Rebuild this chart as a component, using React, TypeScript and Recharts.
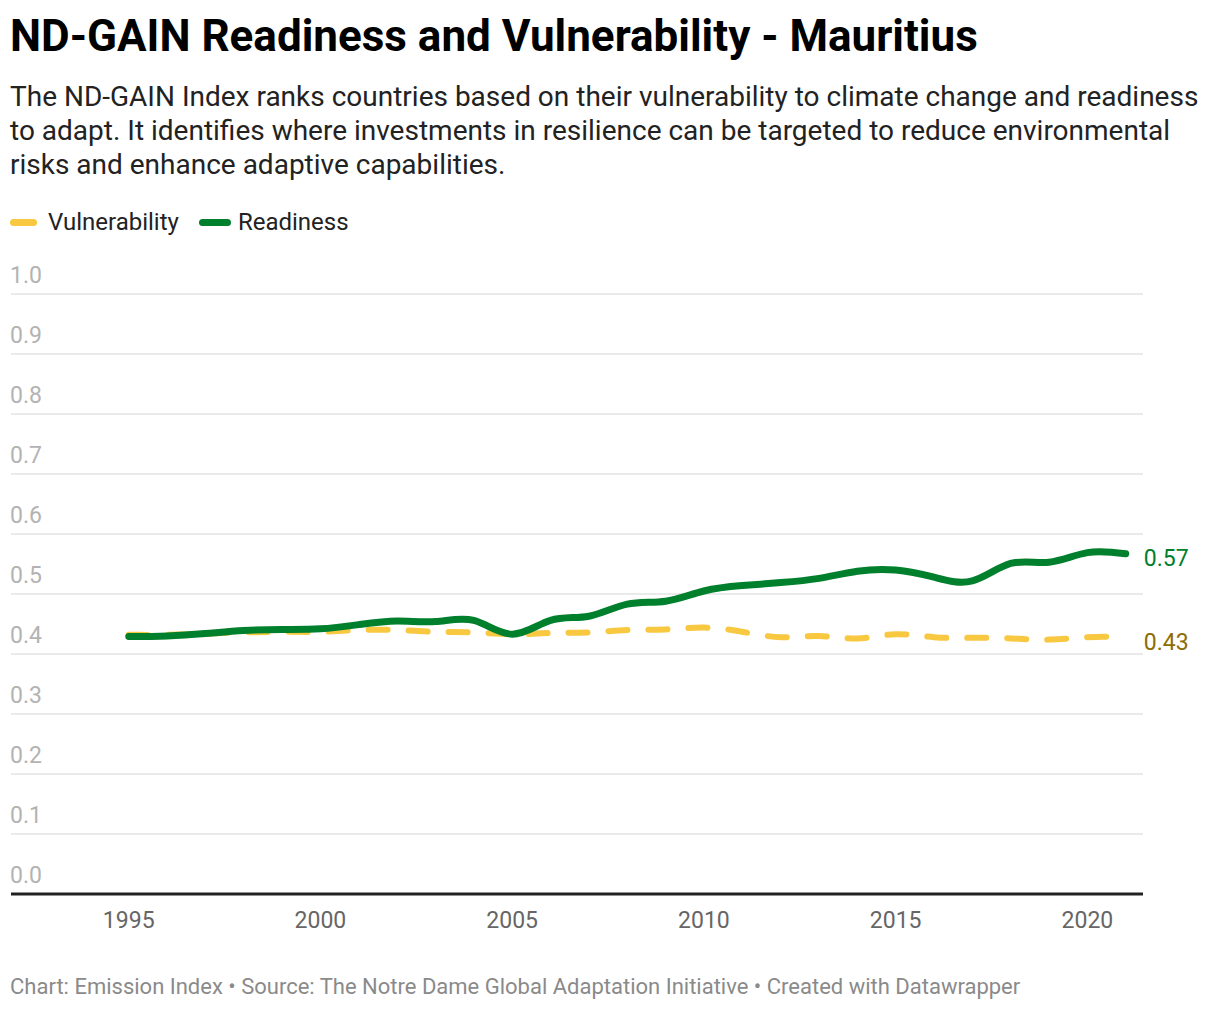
import { CartesianGrid, LabelList, Line, LineChart, XAxis, YAxis } from "recharts";

const YEARS = [
  1995, 1996, 1997, 1998, 1999, 2000, 2001, 2002, 2003, 2004, 2005, 2006, 2007,
  2008, 2009, 2010, 2011, 2012, 2013, 2014, 2015, 2016, 2017, 2018, 2019, 2020,
  2021,
];

const READINESS = [
  0.429, 0.43, 0.434, 0.439, 0.441, 0.442, 0.449, 0.455, 0.454, 0.456, 0.433,
  0.456, 0.463, 0.483, 0.488, 0.505, 0.514, 0.519, 0.526, 0.538, 0.54, 0.528,
  0.522, 0.551, 0.553, 0.569, 0.567,
];

const VULNERABILITY = [
  0.432, 0.432, 0.434, 0.436, 0.437, 0.437, 0.44, 0.44, 0.437, 0.436, 0.433,
  0.435, 0.436, 0.44, 0.441, 0.444, 0.437, 0.428, 0.43, 0.426, 0.433, 0.428,
  0.427, 0.426, 0.424, 0.428, 0.428,
];

const Y_TICKS = [0, 0.1, 0.2, 0.3, 0.4, 0.5, 0.6, 0.7, 0.8, 0.9, 1.0];
const X_TICKS = [1995, 2000, 2005, 2010, 2015, 2020];

const GREEN = "#007f2d";
const YELLOW = "#f8c840";

const data = YEARS.map((year, i) => ({
  year,
  readiness: READINESS[i],
  vulnerability: VULNERABILITY[i],
}));

const FONT = "Roboto, sans-serif";

const renderYTick = (props: any) => {
  const { y, payload } = props;
  return (
    <text x={10} y={y - 11} fill="#b3b3b3" fontSize={23} fontFamily={FONT} textAnchor="start">
      {Number(payload.value).toFixed(1)}
    </text>
  );
};

const endLabel = (color: string, dy: number) => (props: any) => {
  const { x, y, index, value } = props;
  if (index !== YEARS.length - 1) return null;
  return (
    <text x={x + 18} y={y + dy} fill={color} fontSize={23} fontFamily={FONT} dominantBaseline="middle">
      {Number(value).toFixed(2)}
    </text>
  );
};

const App = () => {
  return (
    <div style={{ position: "absolute", left: 0, top: 0, width: 1220, height: 1010, background: "#fff", fontFamily: FONT }}>
      <LineChart
        width={1220}
        height={1010}
        data={data}
        margin={{ top: 294, right: 77, bottom: 86, left: 10 }}
        style={{ position: "absolute", left: 0, top: 0 }}
      >
        <CartesianGrid vertical={false} stroke="#e3e3e3" strokeWidth={1.5} />
        <XAxis
          dataKey="year"
          type="number"
          height={30}
          domain={[1991.93, 2021.45]}
          ticks={X_TICKS}
          tickLine={false}
          axisLine={{ stroke: "#222", strokeWidth: 3 }}
          tick={{ fill: "#666", fontSize: 23, fontFamily: FONT }}
          tickMargin={12}
          allowDataOverflow
        />
        <YAxis
          width={1}
          domain={[0, 1]}
          ticks={Y_TICKS}
          axisLine={false}
          tickLine={false}
          tick={renderYTick}
        />
        <Line
          dataKey="vulnerability"
          type="natural"
          stroke={YELLOW}
          strokeWidth={6}
          strokeDasharray="19 21"
          strokeLinecap="round"
          dot={false}
          isAnimationActive={false}
        >
          <LabelList dataKey="vulnerability" content={endLabel("#8c6d00", 7)} />
        </Line>
        <Line
          dataKey="readiness"
          type="natural"
          stroke={GREEN}
          strokeWidth={7}
          strokeLinecap="round"
          dot={false}
          isAnimationActive={false}
        >
          <LabelList dataKey="readiness" content={endLabel(GREEN, 6)} />
        </Line>
      </LineChart>

      <div style={{ position: "absolute", left: 10, top: 10, fontSize: 44, fontWeight: 700, color: "#000", lineHeight: "52px", whiteSpace: "nowrap" }}>
        ND-GAIN Readiness and Vulnerability - Mauritius
      </div>
      <div style={{ position: "absolute", left: 10, top: 80, fontSize: 28, color: "#222", lineHeight: "34px", whiteSpace: "nowrap" }}>
        The ND-GAIN Index ranks countries based on their vulnerability to climate change and readiness
        <br />
        to adapt. It identifies where investments in resilience can be targeted to reduce environmental
        <br />
        risks and enhance adaptive capabilities.
      </div>

      <div style={{ position: "absolute", left: 10, top: 206, display: "flex", alignItems: "center", fontSize: 24, color: "#222", lineHeight: "32px" }}>
        <span style={{ display: "inline-block", width: 27, height: 7, borderRadius: 4, background: YELLOW, marginRight: 11 }} />
        <span style={{ marginRight: 20 }}>Vulnerability</span>
        <span style={{ display: "inline-block", width: 32, height: 7, borderRadius: 4, background: GREEN, marginRight: 7 }} />
        <span>Readiness</span>
      </div>

      <div style={{ position: "absolute", left: 10, top: 973, fontSize: 22, color: "#8a8a8a", lineHeight: "28px", whiteSpace: "nowrap" }}>
        Chart: Emission Index • Source: The Notre Dame Global Adaptation Initiative • Created with Datawrapper
      </div>
    </div>
  );
};

export default App;
